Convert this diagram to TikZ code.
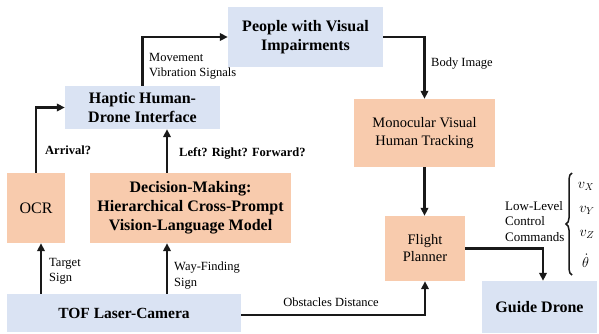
\documentclass[tikz,border=0pt]{standalone}
\usepackage{fontspec}
\setmainfont{Liberation Serif}
\usetikzlibrary{arrows.meta,calc,decorations.pathreplacing}
\definecolor{boxblue}{RGB}{218,227,243}
\definecolor{boxorange}{RGB}{248,203,173}
\definecolor{linecol}{RGB}{25,25,25}
\begin{document}
\begin{tikzpicture}[x=1pt,y=-1pt,
  bluebox/.style={fill=boxblue,inner sep=0pt,align=center,font=\fontsize{16}{18.5}\selectfont\bfseries},
  orangebox/.style={fill=boxorange,inner sep=0pt,align=center},
  arr/.style={line width=2.2pt,draw=linecol,-{Triangle[length=8pt,width=7.5pt]}},
  lbl/.style={font=\fontsize{12.5}{15.2}\selectfont,align=left,inner sep=0pt},
  blbl/.style={font=\fontsize{12.5}{15}\selectfont\bfseries,inner sep=0pt},
  mathlbl/.style={font=\fontsize{14}{16}\selectfont,inner sep=0pt}]

\useasboundingbox (0,0) rectangle (599,333);

% boxes
\node[bluebox,minimum width=155pt,minimum height=60pt] (people) at (305.5,37) {People with Visual\\Impairments};
\node[bluebox,minimum width=155pt,minimum height=43pt] (haptic) at (142.5,107.5) {Haptic Human-\\Drone Interface};
\node[orangebox,minimum width=58pt,minimum height=70pt,font=\fontsize{16}{18}\selectfont] (ocr) at (36,208) {OCR};
\node[orangebox,minimum width=201pt,minimum height=70pt,font=\fontsize{16}{19}\selectfont\bfseries] (dm) at (190.5,208) {Decision-Making:\\Hierarchical Cross-Prompt\\Vision-Language Model};
\node[bluebox,minimum width=234pt,minimum height=38pt,font=\fontsize{15.5}{18}\selectfont\bfseries] (tof) at (124,313) {TOF Laser-Camera};
\node[orangebox,minimum width=141pt,minimum height=68pt,font=\fontsize{14.5}{18}\selectfont] (mono) at (424.5,133) {Monocular Visual\\Human Tracking};
\node[orangebox,minimum width=80pt,minimum height=65pt,font=\fontsize{14.5}{17}\selectfont] (flight) at (425,248.5) {Flight\\Planner};
\node[bluebox,minimum width=115pt,minimum height=52pt] (guide) at (539.5,307) {Guide Drone};

% helper coordinates
\coordinate (xocr) at (41,0);
\coordinate (xdm) at (167,0);
\coordinate (xgd) at (543,0);

% connectors
\draw[arr] (tof.north -| xocr) -- (ocr.south -| xocr);
\draw[arr] (tof.north -| xdm) -- (dm.south -| xdm);
\draw[arr] (dm.north -| xdm) -- (haptic.south -| xdm);
\draw[arr] (ocr.north) |- (haptic.west);
\draw[arr] (haptic.north) |- (people.west);
\draw[arr] (people.east) -| (mono.north);
\draw[arr] (mono.south) -- (mono.south |- flight.north);
\draw[arr] ([yshift=-2pt]tof.east) -| (flight.south);
\draw[arr] (flight.east) -| (guide.north -| xgd);

% labels
\node[lbl,anchor=north west] (lmvs) at (149,53) {Movement\\Vibration Signals};
\node[lbl,anchor=west] (lbody) at (431,64) {Body Image};
\node[blbl,anchor=west] (larr) at (45,150.5) {Arrival?};
\node[blbl,anchor=west] (llrf) at (179,153) {Left? Right? Forward?};
\node[lbl,anchor=north west] (ltgt) at (49,258) {Target\\Sign};
\node[lbl,anchor=north west] (lway) at (174,262) {Way-Finding\\Sign};
\node[lbl] (lobs) at (331,302) {Obstacles Distance};
\node[lbl,anchor=north west,font=\fontsize{13}{15.6}\selectfont] (lllc) at (505,201) {Low-Level\\Control\\Commands};

% brace and command components
\coordinate (brb) at (572,275);
\coordinate (brt) at (572,173);
\draw[line width=1.5pt,draw=linecol,decorate,decoration={brace,amplitude=6pt}] (brb) -- (brt);
\node[mathlbl] (vx) at (586,186) {$v_X$};
\node[mathlbl] (vy) at (587,210.5) {$v_Y$};
\node[mathlbl] (vz) at (587,234.5) {$v_Z$};
\node[mathlbl] (th) at (585.5,261) {$\dot{\theta}$};
\end{tikzpicture}
\end{document}
